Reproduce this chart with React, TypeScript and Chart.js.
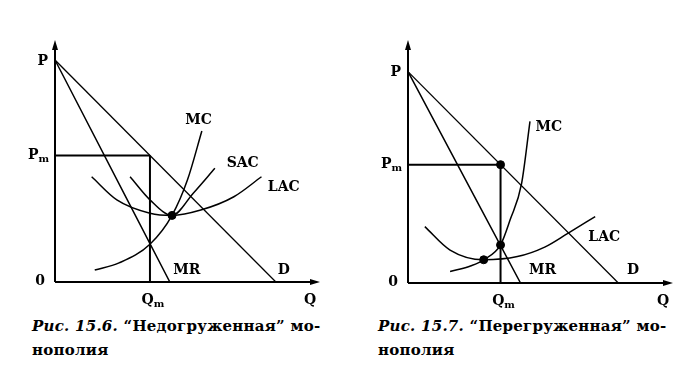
import React, { useEffect, useRef } from "react";
import { Chart, registerables } from "chart.js";

Chart.register(...registerables);

// ---------- Fig. 15.6 (underloaded monopoly) ----------
const leftDemandQ = [0, 100];
const leftDemandP = [100, 0];
const leftMRQ = [0, 52];
const leftMRP = [100, 0];
const leftMCQ = [18, 29, 43, 53, 60, 66.5];
const leftMCP = [5.4, 8.6, 17, 30, 46, 68];
const leftLACQ = [16.6, 28, 43, 53, 66, 81, 93.5];
const leftLACP = [47.4, 37, 31, 30, 32.4, 38.4, 47.4];
const leftSACQ = [34, 43, 53, 62.6, 72.4];
const leftSACP = [47.4, 37, 30, 40, 51.2];
const leftQm = 43;
const leftPm = 57;
const leftDotsQ = [53];
const leftDotsP = [30];

// ---------- Fig. 15.7 (overloaded monopoly) ----------
const rightDemandQ = [0, 100];
const rightDemandP = [100, 0];
const rightMRQ = [0, 53.5];
const rightMRP = [100, 0];
const rightMCQ = [20, 30, 36, 44, 48.6, 54, 58];
const rightMCP = [5.4, 8.2, 11, 18, 30, 47, 76.5];
const rightLACQ = [8, 20, 36, 52, 65, 76, 89];
const rightLACP = [26.7, 15.6, 11, 12.5, 17, 23.5, 31.4];
const rightQm = 44;
const rightPm = 56;
const rightDotsQ = [36, 44, 44];
const rightDotsP = [11, 18, 56];

// curve label anchors (data units)
const leftLabelText = ["MC", "SAC", "LAC", "MR", "D"];
const leftLabelQ = [65, 85, 103.6, 59.7, 103.6];
const leftLabelP = [73, 53.6, 42.8, 5.4, 5.4];
const rightLabelText = ["MC", "LAC", "MR", "D"];
const rightLabelQ = [67, 93.3, 64, 107];
const rightLabelP = [73.5, 21.8, 6, 6];

const zip = (qs: number[], ps: number[]) => qs.map((q, i) => ({ x: q, y: ps[i] }));

const LABEL_FONT = "bold 14px 'DejaVu Serif'";
const SUB_FONT = "bold 10px 'DejaVu Serif'";

function drawSub(ctx: CanvasRenderingContext2D, main: string, sub: string, x: number, y: number, align: "left" | "right" | "center") {
  ctx.font = LABEL_FONT;
  const wm = ctx.measureText(main).width;
  ctx.font = SUB_FONT;
  const ws = sub ? ctx.measureText(sub).width : 0;
  const total = wm + ws;
  let left = x;
  if (align === "right") left = x - total;
  else if (align === "center") left = x - total / 2;
  ctx.textAlign = "left";
  ctx.textBaseline = "middle";
  ctx.font = LABEL_FONT;
  ctx.fillText(main, left, y);
  if (sub) {
    ctx.font = SUB_FONT;
    ctx.fillText(sub, left + wm, y + 4);
  }
}

const econPlugin = {
  id: "econ",
  afterDatasetsDraw(chart: any, _args: any, opts: any) {
    const ctx: CanvasRenderingContext2D = chart.ctx;
    const xs = chart.scales.x;
    const ys = chart.scales.y;
    const x0 = xs.getPixelForValue(0);
    const y0 = ys.getPixelForValue(0);
    const xEnd = xs.getPixelForValue(xs.max);
    const yEnd = ys.getPixelForValue(ys.max);
    ctx.save();
    ctx.strokeStyle = "#000";
    ctx.fillStyle = "#000";
    ctx.lineWidth = 2;
    ctx.beginPath();
    ctx.moveTo(x0, y0);
    ctx.lineTo(xEnd - 4, y0);
    ctx.moveTo(x0, y0);
    ctx.lineTo(x0, yEnd + 4);
    ctx.stroke();
    // arrowheads
    ctx.beginPath();
    ctx.moveTo(xEnd, y0);
    ctx.lineTo(xEnd - 10, y0 - 3);
    ctx.lineTo(xEnd - 10, y0 + 3);
    ctx.closePath();
    ctx.fill();
    ctx.beginPath();
    ctx.moveTo(x0, yEnd);
    ctx.lineTo(x0 - 3, yEnd + 10);
    ctx.lineTo(x0 + 3, yEnd + 10);
    ctx.closePath();
    ctx.fill();

    // axis labels
    const yP = ys.getPixelForValue(100);
    const yPm = ys.getPixelForValue(opts.pm);
    const xQm = xs.getPixelForValue(opts.qm);
    drawSub(ctx, "P", "", x0 - 7, yP + 1, "right");
    drawSub(ctx, "P", "m", x0 - 6, yPm, "right");
    drawSub(ctx, "0", "", x0 - 10, y0 - 1, "right");
    drawSub(ctx, "Q", "m", xQm + 3, y0 + 18, "center");
    drawSub(ctx, "Q", "", xEnd - 10, y0 + 18, "center");

    // curve labels
    const texts: string[] = opts.texts;
    texts.forEach((t, i) => {
      const px = xs.getPixelForValue(opts.qs[i]);
      const py = ys.getPixelForValue(opts.ps[i]);
      drawSub(ctx, t, "", px, py, "center");
    });
    ctx.restore();
  },
};

type Spec = {
  demand: { x: number; y: number }[];
  mr: { x: number; y: number }[];
  curves: { x: number; y: number }[][];
  qm: number;
  pm: number;
  dots: { x: number; y: number }[];
  xMax: number;
  yMax: number;
  padding: { left: number; right: number; top: number; bottom: number };
  texts: string[];
  qs: number[];
  ps: number[];
};

function Diagram({ spec }: { spec: Spec }) {
  const ref = useRef<HTMLCanvasElement>(null);
  useEffect(() => {
    if (!ref.current) return;
    const line = (data: any, w: number) => ({
      data,
      showLine: true,
      borderColor: "#000",
      backgroundColor: "#000",
      borderWidth: w,
      pointRadius: 0,
      fill: false,
      cubicInterpolationMode: "monotone" as const,
    });
    const datasets: any[] = [
      line(spec.demand, 1.3),
      line(spec.mr, 1.5),
      line([{ x: 0, y: spec.pm }, { x: spec.qm, y: spec.pm }], 2),
      line([{ x: spec.qm, y: 0 }, { x: spec.qm, y: spec.pm }], 2),
      ...spec.curves.map((c) => line(c, 1.5)),
      {
        data: spec.dots,
        showLine: false,
        pointRadius: 4,
        pointBackgroundColor: "#000",
        pointBorderColor: "#000",
      },
    ];
    const chart = new Chart(ref.current, {
      type: "scatter",
      data: { datasets },
      options: {
        animation: false,
        responsive: false,
        layout: { padding: spec.padding },
        scales: {
          x: { type: "linear", min: 0, max: spec.xMax, display: false },
          y: { type: "linear", min: 0, max: spec.yMax, display: false },
        },
        plugins: {
          legend: { display: false },
          tooltip: { enabled: false },
          econ: { qm: spec.qm, pm: spec.pm, texts: spec.texts, qs: spec.qs, ps: spec.ps },
        } as any,
      },
      plugins: [econPlugin],
    });
    return () => chart.destroy();
  }, [spec]);
  return <canvas ref={ref} width={345} height={310} style={{ display: "block" }} />;
}

const leftSpec: Spec = {
  demand: zip(leftDemandQ, leftDemandP),
  mr: zip(leftMRQ, leftMRP),
  curves: [zip(leftMCQ, leftMCP), zip(leftLACQ, leftLACP), zip(leftSACQ, leftSACP)],
  qm: leftQm,
  pm: leftPm,
  dots: zip(leftDotsQ, leftDotsP),
  xMax: 120,
  yMax: 109,
  padding: { left: 55, right: 25, top: 40, bottom: 28 },
  texts: leftLabelText,
  qs: leftLabelQ,
  ps: leftLabelP,
};

const rightSpec: Spec = {
  demand: zip(rightDemandQ, rightDemandP),
  mr: zip(rightMRQ, rightMRP),
  curves: [zip(rightMCQ, rightMCP), zip(rightLACQ, rightLACP)],
  qm: rightQm,
  pm: rightPm,
  dots: zip(rightDotsQ, rightDotsP),
  xMax: 126,
  yMax: 115,
  padding: { left: 63, right: 17, top: 40, bottom: 27 },
  texts: rightLabelText,
  qs: rightLabelQ,
  ps: rightLabelP,
};

const captionStyle: React.CSSProperties = {
  position: "absolute",
  top: 314,
  fontFamily: "'DejaVu Serif', serif",
  fontSize: 15,
  fontWeight: "bold",
  letterSpacing: "0.25px",
  lineHeight: "24px",
  color: "#000",
  whiteSpace: "nowrap",
};

export default function App() {
  return (
    <div style={{ position: "absolute", left: 0, top: 0, width: 690, height: 368, background: "#fff", overflow: "hidden" }}>
      <div style={{ position: "absolute", left: 0, top: 0 }}>
        <Diagram spec={leftSpec} />
      </div>
      <div style={{ position: "absolute", left: 345, top: 0 }}>
        <Diagram spec={rightSpec} />
      </div>
      <div style={{ ...captionStyle, left: 32 }}>
        <i>Рис. 15.6.</i> “Недогруженная” мо-
        <br />
        нополия
      </div>
      <div style={{ ...captionStyle, left: 378 }}>
        <i>Рис. 15.7.</i> “Перегруженная” мо-
        <br />
        нополия
      </div>
    </div>
  );
}
